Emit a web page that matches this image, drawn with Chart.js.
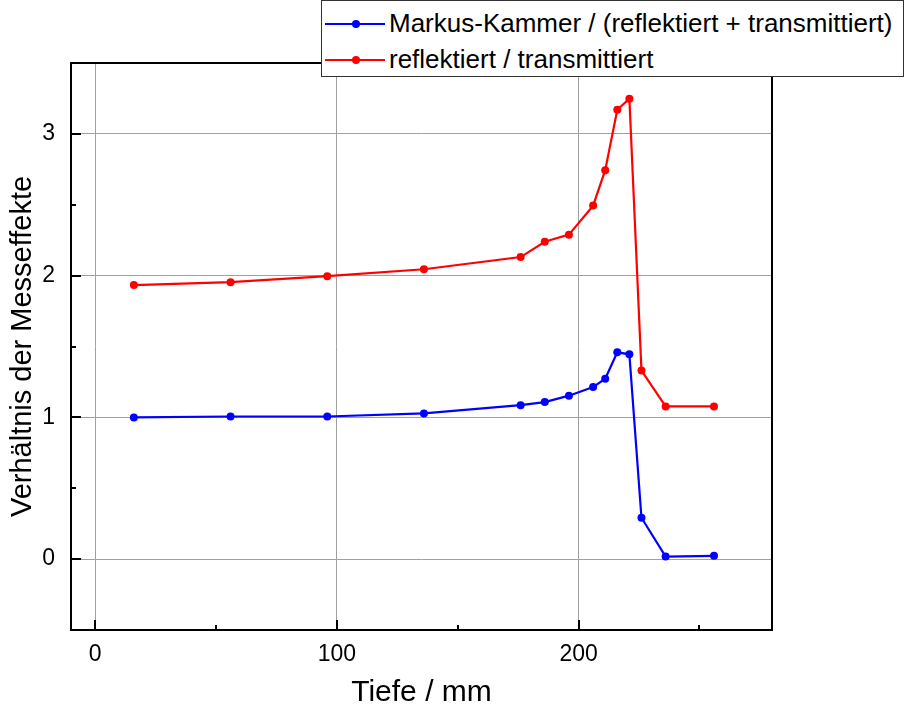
<!DOCTYPE html>
<html>
<head>
<meta charset="utf-8">
<script src="https://cdn.jsdelivr.net/npm/chart.js@4/dist/chart.umd.min.js"></script>
<style>
  html, body { margin: 0; padding: 0; background: #fff; }
  #wrap { position: relative; width: 906px; height: 711px; }
  #legend {
    position: absolute; left: 321px; top: 0px; width: 581px; height: 75px;
    border: 1.5px solid #333; background: #fff; box-sizing: content-box;
    font-family: "Liberation Sans", Arial, sans-serif; font-size: 26px; color: #000;
  }
  .row { position: absolute; left: 0; height: 30px; line-height: 30px; white-space: nowrap; }
  .row .sym { position: absolute; left: 3px; top: 15px; width: 60px; height: 2px; }
  .row .sym i { position: absolute; left: 27px; top: -3px; width: 8px; height: 8px; border-radius: 50%; }
  .row span { position: absolute; left: 67px; top: 0; }
</style>
</head>
<body>
<div id="wrap">
  <canvas id="chart" width="906" height="711"></canvas>
  <div id="legend">
    <div class="row" style="top:7px"><div class="sym" style="background:#0000ff"><i style="background:#0000ff"></i></div><span>Markus-Kammer / (reflektiert + transmittiert)</span></div>
    <div class="row" style="top:43px"><div class="sym" style="background:#ff0000"><i style="background:#ff0000"></i></div><span>reflektiert / transmittiert</span></div>
  </div>
</div>
<script>
const depth = [16, 56, 96, 136, 176, 186, 196, 206, 211, 216, 221, 226, 236, 256]
const markusRatio = [1.0, 1.006, 1.006, 1.028, 1.086, 1.108, 1.153, 1.214, 1.273, 1.459, 1.445, 0.292, 0.018, 0.023]
const reflTransRatio = [1.933, 1.954, 1.996, 2.045, 2.131, 2.239, 2.289, 2.494, 2.744, 3.17, 3.248, 1.33, 1.077, 1.077]
const xTicks = [0, 50, 100, 150, 200, 250]
const yTicks = [-0.5, 0, 0.5, 1, 1.5, 2, 2.5, 3, 3.5]

const FONT = '"Liberation Sans", Arial, sans-serif'

const toPoints = ys => depth.map((x, i) => ({ x: x, y: ys[i] }))

// frame + inward tick marks, Origin style
const framePlugin = {
  id: 'frame',
  afterDraw(chart) {
    const { ctx, chartArea: a, scales } = chart
    ctx.save()
    ctx.strokeStyle = '#000'
    ctx.lineWidth = 2
    ctx.strokeRect(a.left, a.top, a.right - a.left, a.bottom - a.top)
    xTicks.forEach(v => {
      const px = Math.round(scales.x.getPixelForValue(v))
      const len = v % 100 === 0 ? 10 : 5
      ctx.beginPath()
      ctx.moveTo(px, a.bottom)
      ctx.lineTo(px, a.bottom - len)
      ctx.stroke()
    })
    yTicks.forEach(v => {
      const py = Math.round(scales.y.getPixelForValue(v))
      if (py <= a.top + 1 || py >= a.bottom - 1) return
      const len = Number.isInteger(v) ? 10 : 5
      ctx.beginPath()
      ctx.moveTo(a.left, py)
      ctx.lineTo(a.left + len, py)
      ctx.stroke()
    })
    ctx.restore()
  }
}

new Chart(document.getElementById('chart'), {
  type: 'scatter',
  data: {
    datasets: [
      {
        label: 'Markus-Kammer / (reflektiert + transmittiert)',
        data: toPoints(markusRatio),
        showLine: true,
        borderColor: '#0000ff',
        backgroundColor: '#0000ff',
        borderWidth: 2.2,
        pointRadius: 4,
        pointBorderWidth: 0
      },
      {
        label: 'reflektiert / transmittiert',
        data: toPoints(reflTransRatio),
        showLine: true,
        borderColor: '#ff0000',
        backgroundColor: '#ff0000',
        borderWidth: 2.2,
        pointRadius: 4,
        pointBorderWidth: 0
      }
    ]
  },
  options: {
    responsive: false,
    animation: false,
    layout: { padding: { top: 63, right: 134, left: 0, bottom: 0 } },
    plugins: {
      legend: { display: false },
      tooltip: { enabled: false }
    },
    scales: {
      x: {
        type: 'linear',
        min: -10,
        max: 280,
        afterBuildTicks: s => { s.ticks = xTicks.map(v => ({ value: v })) },
        afterFit: s => { s.height = 81 },
        border: { display: false },
        grid: {
          color: c => (c.tick && c.tick.value % 100 === 0) ? '#a0a0a0' : 'rgba(0,0,0,0)',
          lineWidth: 1,
          drawTicks: false
        },
        ticks: {
          autoSkip: false,
          maxRotation: 0,
          padding: 11,
          color: '#000',
          font: { family: FONT, size: 23 },
          callback: v => (v % 100 === 0 ? v : '')
        },
        title: {
          display: true,
          text: 'Tiefe / mm',
          color: '#000',
          font: { family: FONT, size: 30 },
          padding: { top: 2, bottom: 0 }
        }
      },
      y: {
        min: -0.5,
        max: 3.5,
        afterBuildTicks: s => { s.ticks = yTicks.map(v => ({ value: v })) },
        afterFit: s => { s.width = 71 },
        border: { display: false },
        grid: {
          color: c => (c.tick && Number.isInteger(c.tick.value)) ? '#a0a0a0' : 'rgba(0,0,0,0)',
          lineWidth: 1,
          drawTicks: false
        },
        ticks: {
          autoSkip: false,
          padding: 16,
          color: '#000',
          font: { family: FONT, size: 23 },
          callback: v => (Number.isInteger(v) ? v : '')
        },
        title: {
          display: true,
          text: 'Verhältnis der Messeffekte',
          color: '#000',
          font: { family: FONT, size: 29 },
          padding: { top: 6, bottom: 2 }
        }
      }
    }
  },
  plugins: [framePlugin]
})
</script>
</body>
</html>
